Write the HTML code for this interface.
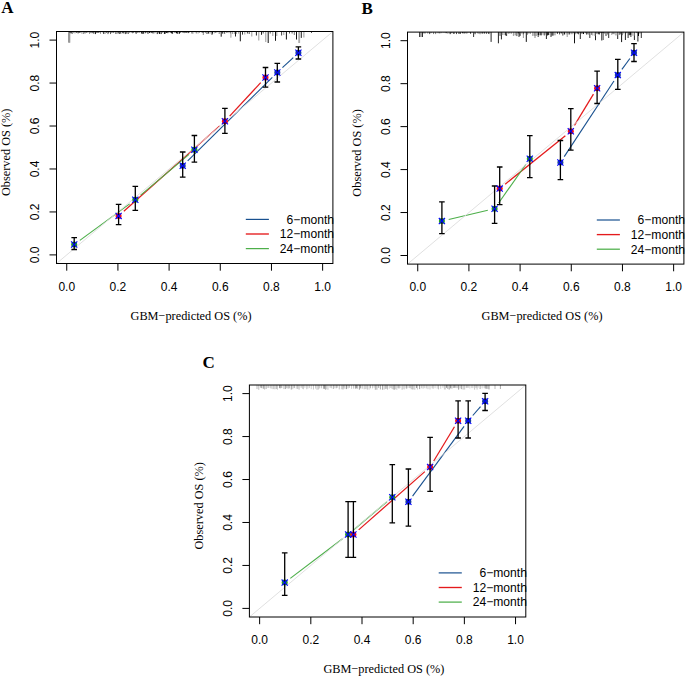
<!DOCTYPE html>
<html><head><meta charset="utf-8"><style>
html,body{margin:0;padding:0;background:#fff;}
svg{display:block;}
</style></head><body>
<svg width="685" height="676" viewBox="0 0 685 676">
<rect width="685" height="676" fill="#fff"/>
<line x1="69" y1="31.5" x2="69" y2="42.7" stroke="#333" stroke-width="1"/>
<line x1="69.8" y1="31.5" x2="69.8" y2="42.7" stroke="#999" stroke-width="1"/>
<line x1="70" y1="31.5" x2="70" y2="32.88" stroke="#222" stroke-width="1"/>
<line x1="71.17" y1="31.5" x2="71.17" y2="33.47" stroke="#000" stroke-width="1"/>
<line x1="72.58" y1="31.5" x2="72.58" y2="33.95" stroke="#888" stroke-width="1"/>
<line x1="73.63" y1="31.5" x2="73.63" y2="32.87" stroke="#888" stroke-width="1"/>
<line x1="74.98" y1="31.5" x2="74.98" y2="33.38" stroke="#888" stroke-width="1"/>
<line x1="76.41" y1="31.5" x2="76.41" y2="32.74" stroke="#222" stroke-width="1"/>
<line x1="78.08" y1="31.5" x2="78.08" y2="33.34" stroke="#000" stroke-width="1"/>
<line x1="79.55" y1="31.5" x2="79.55" y2="32.6" stroke="#000" stroke-width="1"/>
<line x1="80.66" y1="31.5" x2="80.66" y2="32.55" stroke="#555" stroke-width="1"/>
<line x1="81.93" y1="31.5" x2="81.93" y2="33.65" stroke="#888" stroke-width="1"/>
<line x1="83.44" y1="31.5" x2="83.44" y2="33.97" stroke="#888" stroke-width="1"/>
<line x1="84.97" y1="31.5" x2="84.97" y2="33.42" stroke="#222" stroke-width="1"/>
<line x1="86.65" y1="31.5" x2="86.65" y2="32.66" stroke="#222" stroke-width="1"/>
<line x1="87.94" y1="31.5" x2="87.94" y2="32.91" stroke="#888" stroke-width="1"/>
<line x1="89.52" y1="31.5" x2="89.52" y2="33.87" stroke="#888" stroke-width="1"/>
<line x1="90.83" y1="31.5" x2="90.83" y2="33.12" stroke="#555" stroke-width="1"/>
<line x1="92.16" y1="31.5" x2="92.16" y2="33.15" stroke="#222" stroke-width="1"/>
<line x1="93.87" y1="31.5" x2="93.87" y2="33.59" stroke="#000" stroke-width="1"/>
<line x1="95.53" y1="31.5" x2="95.53" y2="34.09" stroke="#222" stroke-width="1"/>
<line x1="97.02" y1="31.5" x2="97.02" y2="33.02" stroke="#000" stroke-width="1"/>
<line x1="98.54" y1="31.5" x2="98.54" y2="32.84" stroke="#555" stroke-width="1"/>
<line x1="99.62" y1="31.5" x2="99.62" y2="32.6" stroke="#888" stroke-width="1"/>
<line x1="100.51" y1="31.5" x2="100.51" y2="33.78" stroke="#888" stroke-width="1"/>
<line x1="102.21" y1="31.5" x2="102.21" y2="32.53" stroke="#888" stroke-width="1"/>
<line x1="103.78" y1="31.5" x2="103.78" y2="33.9" stroke="#000" stroke-width="1"/>
<line x1="105.18" y1="31.5" x2="105.18" y2="33.72" stroke="#888" stroke-width="1"/>
<line x1="106.7" y1="31.5" x2="106.7" y2="33.03" stroke="#555" stroke-width="1"/>
<line x1="108.01" y1="31.5" x2="108.01" y2="34.1" stroke="#555" stroke-width="1"/>
<line x1="108.81" y1="31.5" x2="108.81" y2="32.67" stroke="#000" stroke-width="1"/>
<line x1="110.56" y1="31.5" x2="110.56" y2="34.05" stroke="#555" stroke-width="1"/>
<line x1="111.97" y1="31.5" x2="111.97" y2="32.75" stroke="#000" stroke-width="1"/>
<line x1="113.75" y1="31.5" x2="113.75" y2="33.04" stroke="#555" stroke-width="1"/>
<line x1="115.51" y1="31.5" x2="115.51" y2="33.93" stroke="#888" stroke-width="1"/>
<line x1="116.69" y1="31.5" x2="116.69" y2="33.89" stroke="#888" stroke-width="1"/>
<line x1="118.13" y1="31.5" x2="118.13" y2="33.45" stroke="#000" stroke-width="1"/>
<line x1="119.55" y1="31.5" x2="119.55" y2="34" stroke="#555" stroke-width="1"/>
<line x1="120.78" y1="31.5" x2="120.78" y2="33.65" stroke="#222" stroke-width="1"/>
<line x1="122.52" y1="31.5" x2="122.52" y2="33.2" stroke="#555" stroke-width="1"/>
<line x1="123.84" y1="31.5" x2="123.84" y2="33.38" stroke="#000" stroke-width="1"/>
<line x1="125.43" y1="31.5" x2="125.43" y2="34.08" stroke="#555" stroke-width="1"/>
<line x1="126.25" y1="31.5" x2="126.25" y2="33.49" stroke="#222" stroke-width="1"/>
<line x1="127.11" y1="31.5" x2="127.11" y2="33.5" stroke="#888" stroke-width="1"/>
<line x1="128.26" y1="31.5" x2="128.26" y2="33.97" stroke="#555" stroke-width="1"/>
<line x1="129.8" y1="31.5" x2="129.8" y2="32.54" stroke="#000" stroke-width="1"/>
<line x1="131.55" y1="31.5" x2="131.55" y2="32.53" stroke="#555" stroke-width="1"/>
<line x1="132.61" y1="31.5" x2="132.61" y2="33.23" stroke="#555" stroke-width="1"/>
<line x1="133.58" y1="31.5" x2="133.58" y2="32.8" stroke="#555" stroke-width="1"/>
<line x1="135.23" y1="31.5" x2="135.23" y2="32.92" stroke="#888" stroke-width="1"/>
<line x1="136.13" y1="31.5" x2="136.13" y2="33.8" stroke="#222" stroke-width="1"/>
<line x1="137.24" y1="31.5" x2="137.24" y2="32.86" stroke="#555" stroke-width="1"/>
<line x1="138.28" y1="31.5" x2="138.28" y2="32.8" stroke="#888" stroke-width="1"/>
<line x1="139.73" y1="31.5" x2="139.73" y2="32.66" stroke="#555" stroke-width="1"/>
<line x1="141.48" y1="31.5" x2="141.48" y2="33.58" stroke="#222" stroke-width="1"/>
<line x1="142.72" y1="31.5" x2="142.72" y2="33.87" stroke="#222" stroke-width="1"/>
<line x1="143.6" y1="31.5" x2="143.6" y2="33.69" stroke="#222" stroke-width="1"/>
<line x1="145.28" y1="31.5" x2="145.28" y2="33.22" stroke="#222" stroke-width="1"/>
<line x1="146.87" y1="31.5" x2="146.87" y2="32.55" stroke="#222" stroke-width="1"/>
<line x1="147.99" y1="31.5" x2="147.99" y2="33.84" stroke="#222" stroke-width="1"/>
<line x1="149.65" y1="31.5" x2="149.65" y2="33.04" stroke="#000" stroke-width="1"/>
<line x1="151.26" y1="31.5" x2="151.26" y2="33.05" stroke="#222" stroke-width="1"/>
<line x1="152.48" y1="31.5" x2="152.48" y2="33.33" stroke="#555" stroke-width="1"/>
<line x1="153.74" y1="31.5" x2="153.74" y2="33.51" stroke="#555" stroke-width="1"/>
<line x1="154.96" y1="31.5" x2="154.96" y2="33.16" stroke="#888" stroke-width="1"/>
<line x1="155.92" y1="31.5" x2="155.92" y2="32.51" stroke="#888" stroke-width="1"/>
<line x1="157.28" y1="31.5" x2="157.28" y2="34.08" stroke="#222" stroke-width="1"/>
<line x1="158.11" y1="31.5" x2="158.11" y2="33.23" stroke="#555" stroke-width="1"/>
<line x1="159.45" y1="31.5" x2="159.45" y2="33.92" stroke="#000" stroke-width="1"/>
<line x1="161.11" y1="31.5" x2="161.11" y2="34.05" stroke="#000" stroke-width="1"/>
<line x1="162.72" y1="31.5" x2="162.72" y2="32.57" stroke="#222" stroke-width="1"/>
<line x1="164.42" y1="31.5" x2="164.42" y2="33.94" stroke="#000" stroke-width="1"/>
<line x1="165.23" y1="31.5" x2="165.23" y2="33.69" stroke="#222" stroke-width="1"/>
<line x1="166.53" y1="31.5" x2="166.53" y2="32.88" stroke="#000" stroke-width="1"/>
<line x1="167.86" y1="31.5" x2="167.86" y2="33.16" stroke="#000" stroke-width="1"/>
<line x1="169" y1="31.5" x2="169" y2="32.9" stroke="#888" stroke-width="1"/>
<line x1="170.61" y1="31.5" x2="170.61" y2="32.6" stroke="#222" stroke-width="1"/>
<line x1="171.61" y1="31.5" x2="171.61" y2="33.36" stroke="#000" stroke-width="1"/>
<line x1="172.58" y1="31.5" x2="172.58" y2="33.77" stroke="#222" stroke-width="1"/>
<line x1="174.2" y1="31.5" x2="174.2" y2="32.51" stroke="#888" stroke-width="1"/>
<line x1="175.05" y1="31.5" x2="175.05" y2="32.93" stroke="#555" stroke-width="1"/>
<line x1="176.47" y1="31.5" x2="176.47" y2="33.33" stroke="#000" stroke-width="1"/>
<line x1="177.74" y1="31.5" x2="177.74" y2="33.74" stroke="#000" stroke-width="1"/>
<line x1="179.4" y1="31.5" x2="179.4" y2="33.74" stroke="#000" stroke-width="1"/>
<line x1="180.33" y1="31.5" x2="180.33" y2="32.61" stroke="#000" stroke-width="1"/>
<line x1="181.98" y1="31.5" x2="181.98" y2="32.64" stroke="#888" stroke-width="1"/>
<line x1="183.1" y1="31.5" x2="183.1" y2="33" stroke="#555" stroke-width="1"/>
<line x1="184.28" y1="31.5" x2="184.28" y2="33.12" stroke="#555" stroke-width="1"/>
<line x1="185.44" y1="31.5" x2="185.44" y2="32.81" stroke="#555" stroke-width="1"/>
<line x1="186.67" y1="31.5" x2="186.67" y2="32.7" stroke="#000" stroke-width="1"/>
<line x1="188.19" y1="31.5" x2="188.19" y2="33.11" stroke="#000" stroke-width="1"/>
<line x1="189.55" y1="31.5" x2="189.55" y2="32.57" stroke="#888" stroke-width="1"/>
<line x1="192" y1="31.5" x2="192" y2="33.5" stroke="#333" stroke-width="1"/>
<line x1="203.3" y1="31.5" x2="203.3" y2="35" stroke="#888" stroke-width="1"/>
<line x1="207" y1="31.5" x2="207" y2="34" stroke="#444" stroke-width="1"/>
<line x1="212" y1="31.5" x2="212" y2="35" stroke="#555" stroke-width="1"/>
<line x1="221.2" y1="31.5" x2="221.2" y2="36.7" stroke="#111" stroke-width="1"/>
<line x1="230.9" y1="31.5" x2="230.9" y2="37.7" stroke="#999" stroke-width="1"/>
<line x1="235.5" y1="31.5" x2="235.5" y2="36.5" stroke="#222" stroke-width="1"/>
<line x1="240.3" y1="31.5" x2="240.3" y2="41.3" stroke="#111" stroke-width="1"/>
<line x1="242.5" y1="31.5" x2="242.5" y2="34.6" stroke="#333" stroke-width="1"/>
<line x1="244.8" y1="31.5" x2="244.8" y2="34.5" stroke="#999" stroke-width="1"/>
<line x1="247.4" y1="31.5" x2="247.4" y2="33.5" stroke="#444" stroke-width="1"/>
<line x1="249.2" y1="31.5" x2="249.2" y2="34" stroke="#555" stroke-width="1"/>
<line x1="251.8" y1="31.5" x2="251.8" y2="36.5" stroke="#999" stroke-width="1"/>
<line x1="256.4" y1="31.5" x2="256.4" y2="35.5" stroke="#222" stroke-width="1"/>
<line x1="258.8" y1="31.5" x2="258.8" y2="40.5" stroke="#999" stroke-width="1"/>
<line x1="261.5" y1="31.5" x2="261.5" y2="34.8" stroke="#222" stroke-width="1"/>
<line x1="263.2" y1="31.5" x2="263.2" y2="33.5" stroke="#555" stroke-width="1"/>
<line x1="265.8" y1="31.5" x2="265.8" y2="42" stroke="#999" stroke-width="1"/>
<line x1="268.2" y1="31.5" x2="268.2" y2="43" stroke="#111" stroke-width="1"/>
<line x1="270.2" y1="31.5" x2="270.2" y2="33.5" stroke="#555" stroke-width="1"/>
<line x1="272.8" y1="31.5" x2="272.8" y2="36" stroke="#999" stroke-width="1"/>
<line x1="275.5" y1="31.5" x2="275.5" y2="40.8" stroke="#111" stroke-width="1"/>
<line x1="276.8" y1="31.5" x2="276.8" y2="36" stroke="#999" stroke-width="1"/>
<line x1="281.6" y1="31.5" x2="281.6" y2="35.5" stroke="#444" stroke-width="1"/>
<line x1="283.8" y1="31.5" x2="283.8" y2="35" stroke="#999" stroke-width="1"/>
<line x1="286.4" y1="31.5" x2="286.4" y2="39.5" stroke="#111" stroke-width="1"/>
<line x1="289.5" y1="31.5" x2="289.5" y2="33.5" stroke="#555" stroke-width="1"/>
<line x1="292.1" y1="31.5" x2="292.1" y2="33.5" stroke="#555" stroke-width="1"/>
<line x1="294.3" y1="31.5" x2="294.3" y2="35" stroke="#777" stroke-width="1"/>
<line x1="296.5" y1="31.5" x2="296.5" y2="39.5" stroke="#111" stroke-width="1"/>
<line x1="298.9" y1="31.5" x2="298.9" y2="43" stroke="#999" stroke-width="1"/>
<line x1="299.6" y1="31.5" x2="299.6" y2="43" stroke="#aaa" stroke-width="1"/>
<line x1="301.3" y1="31.5" x2="301.3" y2="37.9" stroke="#222" stroke-width="1"/>
<line x1="303.9" y1="31.5" x2="303.9" y2="37.5" stroke="#999" stroke-width="1"/>
<line x1="311.5" y1="31.5" x2="311.5" y2="33" stroke="#555" stroke-width="1"/>
<line x1="193" y1="31.5" x2="193" y2="33.67" stroke="#999" stroke-width="1"/>
<line x1="195.03" y1="31.5" x2="195.03" y2="32.57" stroke="#999" stroke-width="1"/>
<line x1="196.3" y1="31.5" x2="196.3" y2="33.44" stroke="#777" stroke-width="1"/>
<line x1="198.04" y1="31.5" x2="198.04" y2="33.54" stroke="#999" stroke-width="1"/>
<line x1="199.27" y1="31.5" x2="199.27" y2="32.83" stroke="#777" stroke-width="1"/>
<line x1="201.37" y1="31.5" x2="201.37" y2="32.61" stroke="#999" stroke-width="1"/>
<line x1="202.86" y1="31.5" x2="202.86" y2="32.7" stroke="#000" stroke-width="1"/>
<line x1="205.28" y1="31.5" x2="205.28" y2="33.06" stroke="#777" stroke-width="1"/>
<line x1="206.64" y1="31.5" x2="206.64" y2="33.54" stroke="#999" stroke-width="1"/>
<line x1="208.71" y1="31.5" x2="208.71" y2="33.6" stroke="#000" stroke-width="1"/>
<line x1="210.96" y1="31.5" x2="210.96" y2="33.57" stroke="#999" stroke-width="1"/>
<line x1="212.35" y1="31.5" x2="212.35" y2="33.66" stroke="#000" stroke-width="1"/>
<line x1="214.23" y1="31.5" x2="214.23" y2="33.35" stroke="#999" stroke-width="1"/>
<line x1="215.67" y1="31.5" x2="215.67" y2="32.54" stroke="#000" stroke-width="1"/>
<line x1="216.9" y1="31.5" x2="216.9" y2="32.67" stroke="#999" stroke-width="1"/>
<line x1="219.19" y1="31.5" x2="219.19" y2="33.93" stroke="#777" stroke-width="1"/>
<line x1="221.42" y1="31.5" x2="221.42" y2="32.55" stroke="#444" stroke-width="1"/>
<line x1="222.76" y1="31.5" x2="222.76" y2="33.62" stroke="#000" stroke-width="1"/>
<line x1="224.68" y1="31.5" x2="224.68" y2="33.8" stroke="#444" stroke-width="1"/>
<line x1="226.95" y1="31.5" x2="226.95" y2="32.86" stroke="#444" stroke-width="1"/>
<line x1="228.99" y1="31.5" x2="228.99" y2="33.18" stroke="#999" stroke-width="1"/>
<line x1="230.52" y1="31.5" x2="230.52" y2="33.4" stroke="#777" stroke-width="1"/>
<line x1="232.45" y1="31.5" x2="232.45" y2="33.95" stroke="#999" stroke-width="1"/>
<line x1="234.3" y1="31.5" x2="234.3" y2="33.96" stroke="#999" stroke-width="1"/>
<line x1="236.59" y1="31.5" x2="236.59" y2="33.95" stroke="#999" stroke-width="1"/>
<line x1="238.69" y1="31.5" x2="238.69" y2="33.63" stroke="#999" stroke-width="1"/>
<line x1="187.69" y1="160.79" x2="272.31" y2="77.41" stroke="#18508f" stroke-width="1.1"/>
<line x1="282.42" y1="67.72" x2="293.28" y2="57.58" stroke="#18508f" stroke-width="1.1"/>
<line x1="123.83" y1="211.24" x2="219.67" y2="125.86" stroke="#e41a1c" stroke-width="1.25"/>
<line x1="229.66" y1="116.07" x2="260.74" y2="82.63" stroke="#e41a1c" stroke-width="1.25"/>
<line x1="79.85" y1="240.36" x2="129.65" y2="203.84" stroke="#4daf4a" stroke-width="1.15"/>
<line x1="140.65" y1="195.18" x2="189.05" y2="154.32" stroke="#4daf4a" stroke-width="1.15"/>
<line x1="56.5" y1="263.5" x2="332.9" y2="31.5" stroke="#dcdcdc" stroke-width="0.9"/>
<circle cx="74.2" cy="244.5" r="3" fill="#22a022"/>
<circle cx="118.6" cy="215.9" r="3" fill="#ff1010"/>
<circle cx="135.3" cy="199.7" r="3" fill="#22a022"/>
<circle cx="182.7" cy="165.7" r="3" fill="#1a3f9a"/>
<circle cx="194.4" cy="149.8" r="3" fill="#22a022"/>
<circle cx="224.9" cy="121.2" r="3" fill="#ff1010"/>
<circle cx="265.5" cy="77.5" r="3" fill="#ff1010"/>
<circle cx="277.3" cy="72.5" r="3" fill="#1a3f9a"/>
<circle cx="298.4" cy="52.8" r="3" fill="#1a3f9a"/>
<path d="M74.2 237.7V249.5M71.4 237.7H77M71.4 249.5H77" stroke="#000" stroke-width="1.3" fill="none"/>
<path d="M118.6 204.3V224.6M115.8 204.3H121.4M115.8 224.6H121.4" stroke="#000" stroke-width="1.3" fill="none"/>
<path d="M135.3 186.3V210.4M132.5 186.3H138.1M132.5 210.4H138.1" stroke="#000" stroke-width="1.3" fill="none"/>
<path d="M182.7 152V177.1M179.9 152H185.5M179.9 177.1H185.5" stroke="#000" stroke-width="1.3" fill="none"/>
<path d="M194.4 135.5V162.2M191.6 135.5H197.2M191.6 162.2H197.2" stroke="#000" stroke-width="1.3" fill="none"/>
<path d="M224.9 108.3V133.4M222.1 108.3H227.7M222.1 133.4H227.7" stroke="#000" stroke-width="1.3" fill="none"/>
<path d="M265.5 67.5V87.2M262.7 67.5H268.3M262.7 87.2H268.3" stroke="#000" stroke-width="1.3" fill="none"/>
<path d="M277.3 63.4V82M274.5 63.4H280.1M274.5 82H280.1" stroke="#000" stroke-width="1.3" fill="none"/>
<path d="M298.4 46.8V59M295.6 46.8H301.2M295.6 59H301.2" stroke="#000" stroke-width="1.3" fill="none"/>
<path d="M71.1 241.4L77.3 247.6M71.1 247.6L77.3 241.4" stroke="#0000ff" stroke-width="1.1"/>
<path d="M115.5 212.8L121.7 219M115.5 219L121.7 212.8" stroke="#0000ff" stroke-width="1.1"/>
<path d="M132.2 196.6L138.4 202.8M132.2 202.8L138.4 196.6" stroke="#0000ff" stroke-width="1.1"/>
<path d="M179.6 162.6L185.8 168.8M179.6 168.8L185.8 162.6" stroke="#0000ff" stroke-width="1.1"/>
<path d="M191.3 146.7L197.5 152.9M191.3 152.9L197.5 146.7" stroke="#0000ff" stroke-width="1.1"/>
<path d="M221.8 118.1L228 124.3M221.8 124.3L228 118.1" stroke="#0000ff" stroke-width="1.1"/>
<path d="M262.4 74.4L268.6 80.6M262.4 80.6L268.6 74.4" stroke="#0000ff" stroke-width="1.1"/>
<path d="M274.2 69.4L280.4 75.6M274.2 75.6L280.4 69.4" stroke="#0000ff" stroke-width="1.1"/>
<path d="M295.3 49.7L301.5 55.9M295.3 55.9L301.5 49.7" stroke="#0000ff" stroke-width="1.1"/>
<rect x="56.5" y="31.5" width="276.4" height="232" fill="none" stroke="#000" stroke-width="1"/>
<line x1="49.5" y1="254.9" x2="56.5" y2="254.9" stroke="#000" stroke-width="1"/>
<text x="39.3" y="254.9" transform="rotate(-90 39.3 254.9)" text-anchor="middle" font-family='"Liberation Sans", sans-serif' font-size="12.0">0.0</text>
<line x1="49.5" y1="211.94" x2="56.5" y2="211.94" stroke="#000" stroke-width="1"/>
<text x="39.3" y="211.94" transform="rotate(-90 39.3 211.94)" text-anchor="middle" font-family='"Liberation Sans", sans-serif' font-size="12.0">0.2</text>
<line x1="49.5" y1="168.98" x2="56.5" y2="168.98" stroke="#000" stroke-width="1"/>
<text x="39.3" y="168.98" transform="rotate(-90 39.3 168.98)" text-anchor="middle" font-family='"Liberation Sans", sans-serif' font-size="12.0">0.4</text>
<line x1="49.5" y1="126.02" x2="56.5" y2="126.02" stroke="#000" stroke-width="1"/>
<text x="39.3" y="126.02" transform="rotate(-90 39.3 126.02)" text-anchor="middle" font-family='"Liberation Sans", sans-serif' font-size="12.0">0.6</text>
<line x1="49.5" y1="83.06" x2="56.5" y2="83.06" stroke="#000" stroke-width="1"/>
<text x="39.3" y="83.06" transform="rotate(-90 39.3 83.06)" text-anchor="middle" font-family='"Liberation Sans", sans-serif' font-size="12.0">0.8</text>
<line x1="49.5" y1="40.1" x2="56.5" y2="40.1" stroke="#000" stroke-width="1"/>
<text x="39.3" y="40.1" transform="rotate(-90 39.3 40.1)" text-anchor="middle" font-family='"Liberation Sans", sans-serif' font-size="12.0">1.0</text>
<line x1="66.74" y1="263.5" x2="66.74" y2="270.7" stroke="#000" stroke-width="1"/>
<text x="66.74" y="290.5" text-anchor="middle" font-family='"Liberation Sans", sans-serif' font-size="12.0">0.0</text>
<line x1="117.92" y1="263.5" x2="117.92" y2="270.7" stroke="#000" stroke-width="1"/>
<text x="117.92" y="290.5" text-anchor="middle" font-family='"Liberation Sans", sans-serif' font-size="12.0">0.2</text>
<line x1="169.1" y1="263.5" x2="169.1" y2="270.7" stroke="#000" stroke-width="1"/>
<text x="169.1" y="290.5" text-anchor="middle" font-family='"Liberation Sans", sans-serif' font-size="12.0">0.4</text>
<line x1="220.28" y1="263.5" x2="220.28" y2="270.7" stroke="#000" stroke-width="1"/>
<text x="220.28" y="290.5" text-anchor="middle" font-family='"Liberation Sans", sans-serif' font-size="12.0">0.6</text>
<line x1="271.46" y1="263.5" x2="271.46" y2="270.7" stroke="#000" stroke-width="1"/>
<text x="271.46" y="290.5" text-anchor="middle" font-family='"Liberation Sans", sans-serif' font-size="12.0">0.8</text>
<line x1="322.64" y1="263.5" x2="322.64" y2="270.7" stroke="#000" stroke-width="1"/>
<text x="322.64" y="290.5" text-anchor="middle" font-family='"Liberation Sans", sans-serif' font-size="12.0">1.0</text>
<clipPath id="c0"><rect x="56.5" y="31.5" width="275.8" height="232"/></clipPath>
<line x1="245.8" y1="219.4" x2="268.9" y2="219.4" stroke="#18508f" stroke-width="1.2000000000000002"/>
<text x="334" y="223.7" text-anchor="end" font-family='"Liberation Sans", sans-serif' font-size="12.1">6−month</text>
<line x1="245.8" y1="234" x2="268.9" y2="234" stroke="#e41a1c" stroke-width="1.35"/>
<text x="334" y="238.3" text-anchor="end" font-family='"Liberation Sans", sans-serif' font-size="12.1">12−month</text>
<line x1="245.8" y1="248.6" x2="268.9" y2="248.6" stroke="#4daf4a" stroke-width="1.25"/>
<text x="334" y="252.9" text-anchor="end" font-family='"Liberation Sans", sans-serif' font-size="12.1">24−month</text>
<text x="130.5" y="319.6" font-family='"Liberation Serif", serif' font-size="12.3">GBM−predicted OS (%)</text>
<text x="9.7" y="152.3" transform="rotate(-90 9.7 152.3)" text-anchor="middle" font-family='"Liberation Serif", serif' font-size="12.3">Observed OS (%)</text>
<text x="1.2" y="12.8" font-family='"Liberation Serif", serif' font-weight="bold" font-size="17">A</text>
<line x1="419.6" y1="32.1" x2="419.6" y2="37" stroke="#333" stroke-width="1"/>
<line x1="421" y1="32.1" x2="421" y2="37" stroke="#555" stroke-width="1"/>
<line x1="422.5" y1="32.1" x2="422.5" y2="37" stroke="#333" stroke-width="1"/>
<line x1="473.6" y1="32.1" x2="473.6" y2="37" stroke="#333" stroke-width="1"/>
<line x1="491.1" y1="32.1" x2="491.1" y2="41.9" stroke="#222" stroke-width="1"/>
<line x1="498.4" y1="32.1" x2="498.4" y2="43.3" stroke="#222" stroke-width="1"/>
<line x1="501.4" y1="32.1" x2="501.4" y2="39.4" stroke="#222" stroke-width="1"/>
<line x1="506.6" y1="32.1" x2="506.6" y2="36" stroke="#444" stroke-width="1"/>
<line x1="519" y1="32.1" x2="519" y2="37" stroke="#333" stroke-width="1"/>
<line x1="523.4" y1="32.1" x2="523.4" y2="38" stroke="#999" stroke-width="1"/>
<line x1="526.3" y1="32.1" x2="526.3" y2="41.9" stroke="#111" stroke-width="1"/>
<line x1="535" y1="32.1" x2="535" y2="38" stroke="#888" stroke-width="1"/>
<line x1="538.2" y1="32.1" x2="538.2" y2="37" stroke="#333" stroke-width="1"/>
<line x1="546.4" y1="32.1" x2="546.4" y2="39" stroke="#222" stroke-width="1"/>
<line x1="551" y1="32.1" x2="551" y2="37" stroke="#333" stroke-width="1"/>
<line x1="567.2" y1="32.1" x2="567.2" y2="37" stroke="#999" stroke-width="1"/>
<line x1="574.5" y1="32.1" x2="574.5" y2="43.3" stroke="#111" stroke-width="1"/>
<line x1="580.3" y1="32.1" x2="580.3" y2="39" stroke="#222" stroke-width="1"/>
<line x1="589.8" y1="32.1" x2="589.8" y2="38" stroke="#333" stroke-width="1"/>
<line x1="595.5" y1="32.1" x2="595.5" y2="40.2" stroke="#222" stroke-width="1"/>
<line x1="601.8" y1="32.1" x2="601.8" y2="40.5" stroke="#222" stroke-width="1"/>
<line x1="603.2" y1="32.1" x2="603.2" y2="40" stroke="#555" stroke-width="1"/>
<line x1="606" y1="32.1" x2="606" y2="36" stroke="#444" stroke-width="1"/>
<line x1="608.7" y1="32.1" x2="608.7" y2="38" stroke="#333" stroke-width="1"/>
<line x1="612.9" y1="32.1" x2="612.9" y2="34" stroke="#444" stroke-width="1"/>
<line x1="617.7" y1="32.1" x2="617.7" y2="39" stroke="#222" stroke-width="1"/>
<line x1="621.6" y1="32.1" x2="621.6" y2="42.1" stroke="#111" stroke-width="1"/>
<line x1="625.4" y1="32.1" x2="625.4" y2="40" stroke="#222" stroke-width="1"/>
<line x1="628.1" y1="32.1" x2="628.1" y2="38" stroke="#333" stroke-width="1"/>
<line x1="630.9" y1="32.1" x2="630.9" y2="37" stroke="#333" stroke-width="1"/>
<line x1="634.4" y1="32.1" x2="634.4" y2="40" stroke="#222" stroke-width="1"/>
<line x1="637.9" y1="32.1" x2="637.9" y2="41.5" stroke="#222" stroke-width="1"/>
<line x1="641.3" y1="32.1" x2="641.3" y2="38" stroke="#333" stroke-width="1"/>
<line x1="424" y1="32.1" x2="424" y2="33.46" stroke="#444" stroke-width="1"/>
<line x1="425.26" y1="32.1" x2="425.26" y2="33.6" stroke="#999" stroke-width="1"/>
<line x1="427.73" y1="32.1" x2="427.73" y2="33.62" stroke="#999" stroke-width="1"/>
<line x1="429.67" y1="32.1" x2="429.67" y2="34.1" stroke="#444" stroke-width="1"/>
<line x1="431.09" y1="32.1" x2="431.09" y2="33.18" stroke="#777" stroke-width="1"/>
<line x1="433.59" y1="32.1" x2="433.59" y2="34.09" stroke="#777" stroke-width="1"/>
<line x1="435.66" y1="32.1" x2="435.66" y2="34.1" stroke="#777" stroke-width="1"/>
<line x1="438.09" y1="32.1" x2="438.09" y2="33.33" stroke="#777" stroke-width="1"/>
<line x1="439.85" y1="32.1" x2="439.85" y2="33.44" stroke="#444" stroke-width="1"/>
<line x1="441.76" y1="32.1" x2="441.76" y2="33.23" stroke="#999" stroke-width="1"/>
<line x1="444" y1="32.1" x2="444" y2="33.1" stroke="#999" stroke-width="1"/>
<line x1="446.13" y1="32.1" x2="446.13" y2="33.19" stroke="#000" stroke-width="1"/>
<line x1="447.9" y1="32.1" x2="447.9" y2="33.91" stroke="#999" stroke-width="1"/>
<line x1="450.15" y1="32.1" x2="450.15" y2="34.13" stroke="#000" stroke-width="1"/>
<line x1="451.9" y1="32.1" x2="451.9" y2="33.22" stroke="#444" stroke-width="1"/>
<line x1="453.93" y1="32.1" x2="453.93" y2="33.99" stroke="#000" stroke-width="1"/>
<line x1="456.47" y1="32.1" x2="456.47" y2="34.1" stroke="#444" stroke-width="1"/>
<line x1="458.89" y1="32.1" x2="458.89" y2="33.99" stroke="#444" stroke-width="1"/>
<line x1="460.19" y1="32.1" x2="460.19" y2="33.89" stroke="#000" stroke-width="1"/>
<line x1="462.63" y1="32.1" x2="462.63" y2="33.26" stroke="#000" stroke-width="1"/>
<line x1="464.13" y1="32.1" x2="464.13" y2="33.49" stroke="#000" stroke-width="1"/>
<line x1="465.32" y1="32.1" x2="465.32" y2="33.27" stroke="#777" stroke-width="1"/>
<line x1="466.38" y1="32.1" x2="466.38" y2="33.53" stroke="#777" stroke-width="1"/>
<line x1="467.39" y1="32.1" x2="467.39" y2="33.37" stroke="#999" stroke-width="1"/>
<line x1="469" y1="32.1" x2="469" y2="33.01" stroke="#999" stroke-width="1"/>
<line x1="470.62" y1="32.1" x2="470.62" y2="33.66" stroke="#000" stroke-width="1"/>
<line x1="473.04" y1="32.1" x2="473.04" y2="33.01" stroke="#999" stroke-width="1"/>
<line x1="474.22" y1="32.1" x2="474.22" y2="34.14" stroke="#777" stroke-width="1"/>
<line x1="475.37" y1="32.1" x2="475.37" y2="34.22" stroke="#777" stroke-width="1"/>
<line x1="477.46" y1="32.1" x2="477.46" y2="33.42" stroke="#999" stroke-width="1"/>
<line x1="478.93" y1="32.1" x2="478.93" y2="33.85" stroke="#777" stroke-width="1"/>
<line x1="480.1" y1="32.1" x2="480.1" y2="34.22" stroke="#777" stroke-width="1"/>
<line x1="482.18" y1="32.1" x2="482.18" y2="33.65" stroke="#000" stroke-width="1"/>
<line x1="484.25" y1="32.1" x2="484.25" y2="33.61" stroke="#000" stroke-width="1"/>
<line x1="486.39" y1="32.1" x2="486.39" y2="33.85" stroke="#444" stroke-width="1"/>
<line x1="488.43" y1="32.1" x2="488.43" y2="33.92" stroke="#444" stroke-width="1"/>
<line x1="489.71" y1="32.1" x2="489.71" y2="34.15" stroke="#999" stroke-width="1"/>
<line x1="500" y1="32.1" x2="500" y2="35.9" stroke="#444" stroke-width="1"/>
<line x1="502.29" y1="32.1" x2="502.29" y2="35.03" stroke="#999" stroke-width="1"/>
<line x1="504.07" y1="32.1" x2="504.07" y2="35.04" stroke="#999" stroke-width="1"/>
<line x1="505.74" y1="32.1" x2="505.74" y2="35.45" stroke="#000" stroke-width="1"/>
<line x1="506.89" y1="32.1" x2="506.89" y2="33.64" stroke="#999" stroke-width="1"/>
<line x1="508.39" y1="32.1" x2="508.39" y2="33.9" stroke="#999" stroke-width="1"/>
<line x1="509.47" y1="32.1" x2="509.47" y2="33.51" stroke="#999" stroke-width="1"/>
<line x1="511.18" y1="32.1" x2="511.18" y2="33.84" stroke="#777" stroke-width="1"/>
<line x1="513.4" y1="32.1" x2="513.4" y2="35.94" stroke="#999" stroke-width="1"/>
<line x1="515.16" y1="32.1" x2="515.16" y2="35.42" stroke="#777" stroke-width="1"/>
<line x1="516.86" y1="32.1" x2="516.86" y2="36.09" stroke="#444" stroke-width="1"/>
<line x1="518.24" y1="32.1" x2="518.24" y2="33.4" stroke="#000" stroke-width="1"/>
<line x1="520.03" y1="32.1" x2="520.03" y2="35.83" stroke="#000" stroke-width="1"/>
<line x1="521.28" y1="32.1" x2="521.28" y2="33.67" stroke="#999" stroke-width="1"/>
<line x1="523.22" y1="32.1" x2="523.22" y2="34.27" stroke="#444" stroke-width="1"/>
<line x1="525.05" y1="32.1" x2="525.05" y2="33.54" stroke="#999" stroke-width="1"/>
<line x1="527.17" y1="32.1" x2="527.17" y2="34.73" stroke="#444" stroke-width="1"/>
<line x1="528.96" y1="32.1" x2="528.96" y2="33.71" stroke="#777" stroke-width="1"/>
<line x1="530.48" y1="32.1" x2="530.48" y2="33.98" stroke="#999" stroke-width="1"/>
<line x1="532.73" y1="32.1" x2="532.73" y2="35.95" stroke="#999" stroke-width="1"/>
<line x1="534.17" y1="32.1" x2="534.17" y2="35.82" stroke="#777" stroke-width="1"/>
<line x1="536.06" y1="32.1" x2="536.06" y2="36.03" stroke="#777" stroke-width="1"/>
<line x1="538.31" y1="32.1" x2="538.31" y2="35.1" stroke="#000" stroke-width="1"/>
<line x1="540.15" y1="32.1" x2="540.15" y2="35.28" stroke="#000" stroke-width="1"/>
<line x1="541.31" y1="32.1" x2="541.31" y2="35.37" stroke="#444" stroke-width="1"/>
<line x1="542.99" y1="32.1" x2="542.99" y2="34.67" stroke="#999" stroke-width="1"/>
<line x1="544.27" y1="32.1" x2="544.27" y2="35.45" stroke="#444" stroke-width="1"/>
<line x1="545.32" y1="32.1" x2="545.32" y2="34.6" stroke="#999" stroke-width="1"/>
<line x1="546.48" y1="32.1" x2="546.48" y2="33.95" stroke="#444" stroke-width="1"/>
<line x1="547.67" y1="32.1" x2="547.67" y2="35.48" stroke="#000" stroke-width="1"/>
<line x1="548.71" y1="32.1" x2="548.71" y2="34.96" stroke="#000" stroke-width="1"/>
<line x1="550.4" y1="32.1" x2="550.4" y2="33.16" stroke="#777" stroke-width="1"/>
<line x1="551.86" y1="32.1" x2="551.86" y2="35.71" stroke="#444" stroke-width="1"/>
<line x1="552.97" y1="32.1" x2="552.97" y2="35.62" stroke="#000" stroke-width="1"/>
<line x1="554.97" y1="32.1" x2="554.97" y2="35.32" stroke="#777" stroke-width="1"/>
<line x1="557.37" y1="32.1" x2="557.37" y2="33.72" stroke="#000" stroke-width="1"/>
<line x1="559.57" y1="32.1" x2="559.57" y2="34.41" stroke="#444" stroke-width="1"/>
<line x1="561.25" y1="32.1" x2="561.25" y2="33.43" stroke="#000" stroke-width="1"/>
<line x1="562.83" y1="32.1" x2="562.83" y2="35.64" stroke="#444" stroke-width="1"/>
<line x1="564.37" y1="32.1" x2="564.37" y2="34.52" stroke="#000" stroke-width="1"/>
<line x1="566.13" y1="32.1" x2="566.13" y2="34.37" stroke="#999" stroke-width="1"/>
<line x1="567.55" y1="32.1" x2="567.55" y2="34.49" stroke="#999" stroke-width="1"/>
<line x1="569.17" y1="32.1" x2="569.17" y2="34.47" stroke="#000" stroke-width="1"/>
<line x1="571.17" y1="32.1" x2="571.17" y2="34.2" stroke="#777" stroke-width="1"/>
<line x1="572.8" y1="32.1" x2="572.8" y2="34.18" stroke="#999" stroke-width="1"/>
<line x1="574.11" y1="32.1" x2="574.11" y2="33.11" stroke="#444" stroke-width="1"/>
<line x1="575.48" y1="32.1" x2="575.48" y2="34.21" stroke="#999" stroke-width="1"/>
<line x1="577.22" y1="32.1" x2="577.22" y2="33.58" stroke="#000" stroke-width="1"/>
<line x1="578.46" y1="32.1" x2="578.46" y2="34.31" stroke="#444" stroke-width="1"/>
<line x1="580.35" y1="32.1" x2="580.35" y2="33.52" stroke="#444" stroke-width="1"/>
<line x1="581.97" y1="32.1" x2="581.97" y2="33.65" stroke="#000" stroke-width="1"/>
<line x1="583.54" y1="32.1" x2="583.54" y2="34.05" stroke="#000" stroke-width="1"/>
<line x1="585.52" y1="32.1" x2="585.52" y2="33.25" stroke="#999" stroke-width="1"/>
<line x1="586.58" y1="32.1" x2="586.58" y2="34.58" stroke="#444" stroke-width="1"/>
<line x1="587.92" y1="32.1" x2="587.92" y2="34.27" stroke="#444" stroke-width="1"/>
<line x1="589.15" y1="32.1" x2="589.15" y2="34.97" stroke="#777" stroke-width="1"/>
<line x1="591.42" y1="32.1" x2="591.42" y2="34.88" stroke="#777" stroke-width="1"/>
<line x1="592.81" y1="32.1" x2="592.81" y2="35.46" stroke="#999" stroke-width="1"/>
<line x1="594.91" y1="32.1" x2="594.91" y2="35.98" stroke="#999" stroke-width="1"/>
<line x1="596.26" y1="32.1" x2="596.26" y2="33.9" stroke="#777" stroke-width="1"/>
<line x1="598.15" y1="32.1" x2="598.15" y2="34.13" stroke="#000" stroke-width="1"/>
<line x1="599.22" y1="32.1" x2="599.22" y2="34.41" stroke="#000" stroke-width="1"/>
<line x1="601.05" y1="32.1" x2="601.05" y2="33.11" stroke="#000" stroke-width="1"/>
<line x1="603.01" y1="32.1" x2="603.01" y2="33.16" stroke="#000" stroke-width="1"/>
<line x1="604.68" y1="32.1" x2="604.68" y2="33.67" stroke="#777" stroke-width="1"/>
<line x1="605.96" y1="32.1" x2="605.96" y2="36.02" stroke="#999" stroke-width="1"/>
<line x1="607.44" y1="32.1" x2="607.44" y2="34.54" stroke="#777" stroke-width="1"/>
<line x1="609.75" y1="32.1" x2="609.75" y2="33.2" stroke="#777" stroke-width="1"/>
<line x1="611.81" y1="32.1" x2="611.81" y2="34.99" stroke="#999" stroke-width="1"/>
<line x1="612.93" y1="32.1" x2="612.93" y2="33.98" stroke="#999" stroke-width="1"/>
<line x1="614.09" y1="32.1" x2="614.09" y2="34.27" stroke="#777" stroke-width="1"/>
<line x1="615.84" y1="32.1" x2="615.84" y2="35.44" stroke="#999" stroke-width="1"/>
<line x1="617.09" y1="32.1" x2="617.09" y2="35.32" stroke="#999" stroke-width="1"/>
<line x1="619.26" y1="32.1" x2="619.26" y2="34.76" stroke="#444" stroke-width="1"/>
<line x1="620.76" y1="32.1" x2="620.76" y2="34.34" stroke="#444" stroke-width="1"/>
<line x1="622.39" y1="32.1" x2="622.39" y2="35.21" stroke="#777" stroke-width="1"/>
<line x1="623.76" y1="32.1" x2="623.76" y2="33.61" stroke="#999" stroke-width="1"/>
<line x1="626.09" y1="32.1" x2="626.09" y2="33.23" stroke="#444" stroke-width="1"/>
<line x1="628.09" y1="32.1" x2="628.09" y2="33.17" stroke="#999" stroke-width="1"/>
<line x1="629.22" y1="32.1" x2="629.22" y2="35.18" stroke="#000" stroke-width="1"/>
<line x1="630.66" y1="32.1" x2="630.66" y2="34.9" stroke="#000" stroke-width="1"/>
<line x1="632.89" y1="32.1" x2="632.89" y2="35.72" stroke="#999" stroke-width="1"/>
<line x1="634.55" y1="32.1" x2="634.55" y2="35.71" stroke="#777" stroke-width="1"/>
<line x1="636.94" y1="32.1" x2="636.94" y2="33.1" stroke="#444" stroke-width="1"/>
<line x1="638.5" y1="32.1" x2="638.5" y2="35.97" stroke="#000" stroke-width="1"/>
<line x1="639.98" y1="32.1" x2="639.98" y2="34.03" stroke="#999" stroke-width="1"/>
<line x1="564.24" y1="156.65" x2="613.96" y2="80.95" stroke="#18508f" stroke-width="1.1"/>
<line x1="621.91" y1="69.44" x2="629.89" y2="58.46" stroke="#18508f" stroke-width="1.1"/>
<line x1="505.15" y1="184.21" x2="565.35" y2="135.69" stroke="#e41a1c" stroke-width="1.25"/>
<line x1="574.45" y1="125.32" x2="593.45" y2="94.18" stroke="#e41a1c" stroke-width="1.25"/>
<line x1="448.71" y1="219.5" x2="487.79" y2="210.3" stroke="#4daf4a" stroke-width="1.15"/>
<line x1="498.63" y1="202.98" x2="525.77" y2="164.52" stroke="#4daf4a" stroke-width="1.15"/>
<line x1="407.5" y1="264.1" x2="683.9" y2="32.1" stroke="#dcdcdc" stroke-width="0.9"/>
<circle cx="441.9" cy="221.1" r="3" fill="#22a022"/>
<circle cx="494.6" cy="208.7" r="3" fill="#22a022"/>
<circle cx="499.7" cy="188.6" r="3" fill="#ff1010"/>
<circle cx="529.8" cy="158.8" r="3" fill="#22a022"/>
<circle cx="560.4" cy="162.5" r="3" fill="#1a3f9a"/>
<circle cx="570.8" cy="131.3" r="3" fill="#ff1010"/>
<circle cx="597.1" cy="88.2" r="3" fill="#ff1010"/>
<circle cx="617.8" cy="75.1" r="3" fill="#1a3f9a"/>
<circle cx="634" cy="52.8" r="3" fill="#1a3f9a"/>
<path d="M441.9 201.9V233.6M439.1 201.9H444.7M439.1 233.6H444.7" stroke="#000" stroke-width="1.3" fill="none"/>
<path d="M494.6 186V223.4M491.8 186H497.4M491.8 223.4H497.4" stroke="#000" stroke-width="1.3" fill="none"/>
<path d="M499.7 167V204.6M496.9 167H502.5M496.9 204.6H502.5" stroke="#000" stroke-width="1.3" fill="none"/>
<path d="M529.8 135.6V177.7M527 135.6H532.6M527 177.7H532.6" stroke="#000" stroke-width="1.3" fill="none"/>
<path d="M560.4 140.5V179.7M557.6 140.5H563.2M557.6 179.7H563.2" stroke="#000" stroke-width="1.3" fill="none"/>
<path d="M570.8 108.7V150.2M568 108.7H573.6M568 150.2H573.6" stroke="#000" stroke-width="1.3" fill="none"/>
<path d="M597.1 71.2V103.5M594.3 71.2H599.9M594.3 103.5H599.9" stroke="#000" stroke-width="1.3" fill="none"/>
<path d="M617.8 59.4V89.4M615 59.4H620.6M615 89.4H620.6" stroke="#000" stroke-width="1.3" fill="none"/>
<path d="M634 43.7V61.5M631.2 43.7H636.8M631.2 61.5H636.8" stroke="#000" stroke-width="1.3" fill="none"/>
<path d="M438.8 218L445 224.2M438.8 224.2L445 218" stroke="#0000ff" stroke-width="1.1"/>
<path d="M491.5 205.6L497.7 211.8M491.5 211.8L497.7 205.6" stroke="#0000ff" stroke-width="1.1"/>
<path d="M496.6 185.5L502.8 191.7M496.6 191.7L502.8 185.5" stroke="#0000ff" stroke-width="1.1"/>
<path d="M526.7 155.7L532.9 161.9M526.7 161.9L532.9 155.7" stroke="#0000ff" stroke-width="1.1"/>
<path d="M557.3 159.4L563.5 165.6M557.3 165.6L563.5 159.4" stroke="#0000ff" stroke-width="1.1"/>
<path d="M567.7 128.2L573.9 134.4M567.7 134.4L573.9 128.2" stroke="#0000ff" stroke-width="1.1"/>
<path d="M594 85.1L600.2 91.3M594 91.3L600.2 85.1" stroke="#0000ff" stroke-width="1.1"/>
<path d="M614.7 72L620.9 78.2M614.7 78.2L620.9 72" stroke="#0000ff" stroke-width="1.1"/>
<path d="M630.9 49.7L637.1 55.9M630.9 55.9L637.1 49.7" stroke="#0000ff" stroke-width="1.1"/>
<rect x="407.5" y="32.1" width="276.4" height="232" fill="none" stroke="#000" stroke-width="1"/>
<line x1="400.5" y1="255.5" x2="407.5" y2="255.5" stroke="#000" stroke-width="1"/>
<text x="390.3" y="255.5" transform="rotate(-90 390.3 255.5)" text-anchor="middle" font-family='"Liberation Sans", sans-serif' font-size="12.0">0.0</text>
<line x1="400.5" y1="212.54" x2="407.5" y2="212.54" stroke="#000" stroke-width="1"/>
<text x="390.3" y="212.54" transform="rotate(-90 390.3 212.54)" text-anchor="middle" font-family='"Liberation Sans", sans-serif' font-size="12.0">0.2</text>
<line x1="400.5" y1="169.58" x2="407.5" y2="169.58" stroke="#000" stroke-width="1"/>
<text x="390.3" y="169.58" transform="rotate(-90 390.3 169.58)" text-anchor="middle" font-family='"Liberation Sans", sans-serif' font-size="12.0">0.4</text>
<line x1="400.5" y1="126.62" x2="407.5" y2="126.62" stroke="#000" stroke-width="1"/>
<text x="390.3" y="126.62" transform="rotate(-90 390.3 126.62)" text-anchor="middle" font-family='"Liberation Sans", sans-serif' font-size="12.0">0.6</text>
<line x1="400.5" y1="83.66" x2="407.5" y2="83.66" stroke="#000" stroke-width="1"/>
<text x="390.3" y="83.66" transform="rotate(-90 390.3 83.66)" text-anchor="middle" font-family='"Liberation Sans", sans-serif' font-size="12.0">0.8</text>
<line x1="400.5" y1="40.7" x2="407.5" y2="40.7" stroke="#000" stroke-width="1"/>
<text x="390.3" y="40.7" transform="rotate(-90 390.3 40.7)" text-anchor="middle" font-family='"Liberation Sans", sans-serif' font-size="12.0">1.0</text>
<line x1="417.74" y1="264.1" x2="417.74" y2="271.3" stroke="#000" stroke-width="1"/>
<text x="417.74" y="291.1" text-anchor="middle" font-family='"Liberation Sans", sans-serif' font-size="12.0">0.0</text>
<line x1="468.92" y1="264.1" x2="468.92" y2="271.3" stroke="#000" stroke-width="1"/>
<text x="468.92" y="291.1" text-anchor="middle" font-family='"Liberation Sans", sans-serif' font-size="12.0">0.2</text>
<line x1="520.1" y1="264.1" x2="520.1" y2="271.3" stroke="#000" stroke-width="1"/>
<text x="520.1" y="291.1" text-anchor="middle" font-family='"Liberation Sans", sans-serif' font-size="12.0">0.4</text>
<line x1="571.28" y1="264.1" x2="571.28" y2="271.3" stroke="#000" stroke-width="1"/>
<text x="571.28" y="291.1" text-anchor="middle" font-family='"Liberation Sans", sans-serif' font-size="12.0">0.6</text>
<line x1="622.46" y1="264.1" x2="622.46" y2="271.3" stroke="#000" stroke-width="1"/>
<text x="622.46" y="291.1" text-anchor="middle" font-family='"Liberation Sans", sans-serif' font-size="12.0">0.8</text>
<line x1="673.64" y1="264.1" x2="673.64" y2="271.3" stroke="#000" stroke-width="1"/>
<text x="673.64" y="291.1" text-anchor="middle" font-family='"Liberation Sans", sans-serif' font-size="12.0">1.0</text>
<clipPath id="c351"><rect x="407.5" y="32.1" width="275.8" height="232"/></clipPath>
<line x1="596.8" y1="220" x2="619.9" y2="220" stroke="#18508f" stroke-width="1.2000000000000002"/>
<text x="685" y="224.3" text-anchor="end" font-family='"Liberation Sans", sans-serif' font-size="12.1">6−month</text>
<line x1="596.8" y1="234.6" x2="619.9" y2="234.6" stroke="#e41a1c" stroke-width="1.35"/>
<text x="685" y="238.9" text-anchor="end" font-family='"Liberation Sans", sans-serif' font-size="12.1">12−month</text>
<line x1="596.8" y1="249.2" x2="619.9" y2="249.2" stroke="#4daf4a" stroke-width="1.25"/>
<text x="685" y="253.5" text-anchor="end" font-family='"Liberation Sans", sans-serif' font-size="12.1">24−month</text>
<text x="481.5" y="320.2" font-family='"Liberation Serif", serif' font-size="12.3">GBM−predicted OS (%)</text>
<text x="360.7" y="152.9" transform="rotate(-90 360.7 152.9)" text-anchor="middle" font-family='"Liberation Serif", serif' font-size="12.3">Observed OS (%)</text>
<text x="361.5" y="13.8" font-family='"Liberation Serif", serif' font-weight="bold" font-size="17">B</text>
<line x1="257" y1="385" x2="257" y2="389.06" stroke="#bbb" stroke-width="1"/>
<line x1="258.79" y1="385" x2="258.79" y2="389.75" stroke="#bbb" stroke-width="1"/>
<line x1="260.46" y1="385" x2="260.46" y2="387.72" stroke="#bbb" stroke-width="1"/>
<line x1="261.73" y1="385" x2="261.73" y2="388.14" stroke="#999" stroke-width="1"/>
<line x1="263.3" y1="385" x2="263.3" y2="388.76" stroke="#999" stroke-width="1"/>
<line x1="264.61" y1="385" x2="264.61" y2="389.55" stroke="#bbb" stroke-width="1"/>
<line x1="266.12" y1="385" x2="266.12" y2="389.01" stroke="#aaa" stroke-width="1"/>
<line x1="268.1" y1="385" x2="268.1" y2="387.94" stroke="#aaa" stroke-width="1"/>
<line x1="270.11" y1="385" x2="270.11" y2="387.91" stroke="#c4c4c4" stroke-width="1"/>
<line x1="271.12" y1="385" x2="271.12" y2="388.68" stroke="#bbb" stroke-width="1"/>
<line x1="273.1" y1="385" x2="273.1" y2="389.13" stroke="#aaa" stroke-width="1"/>
<line x1="274.83" y1="385" x2="274.83" y2="389.3" stroke="#c4c4c4" stroke-width="1"/>
<line x1="276.25" y1="385" x2="276.25" y2="389.09" stroke="#aaa" stroke-width="1"/>
<line x1="277.53" y1="385" x2="277.53" y2="389.68" stroke="#ccc" stroke-width="1"/>
<line x1="279.49" y1="385" x2="279.49" y2="388.13" stroke="#999" stroke-width="1"/>
<line x1="280.4" y1="385" x2="280.4" y2="388.33" stroke="#aaa" stroke-width="1"/>
<line x1="281.75" y1="385" x2="281.75" y2="388.1" stroke="#aaa" stroke-width="1"/>
<line x1="283.85" y1="385" x2="283.85" y2="389.14" stroke="#c4c4c4" stroke-width="1"/>
<line x1="285.3" y1="385" x2="285.3" y2="389.06" stroke="#999" stroke-width="1"/>
<line x1="286.87" y1="385" x2="286.87" y2="388.22" stroke="#aaa" stroke-width="1"/>
<line x1="288.21" y1="385" x2="288.21" y2="388.6" stroke="#aaa" stroke-width="1"/>
<line x1="289.43" y1="385" x2="289.43" y2="388.38" stroke="#bbb" stroke-width="1"/>
<line x1="291.28" y1="385" x2="291.28" y2="389.54" stroke="#999" stroke-width="1"/>
<line x1="292.78" y1="385" x2="292.78" y2="389.19" stroke="#ccc" stroke-width="1"/>
<line x1="294.16" y1="385" x2="294.16" y2="388.1" stroke="#999" stroke-width="1"/>
<line x1="296.29" y1="385" x2="296.29" y2="388.72" stroke="#ccc" stroke-width="1"/>
<line x1="297.8" y1="385" x2="297.8" y2="388.93" stroke="#aaa" stroke-width="1"/>
<line x1="299.08" y1="385" x2="299.08" y2="389.66" stroke="#bbb" stroke-width="1"/>
<line x1="301.14" y1="385" x2="301.14" y2="387.76" stroke="#bbb" stroke-width="1"/>
<line x1="302.43" y1="385" x2="302.43" y2="388.79" stroke="#ccc" stroke-width="1"/>
<line x1="303.38" y1="385" x2="303.38" y2="389.26" stroke="#c4c4c4" stroke-width="1"/>
<line x1="304.92" y1="385" x2="304.92" y2="387.78" stroke="#ccc" stroke-width="1"/>
<line x1="306.78" y1="385" x2="306.78" y2="389.27" stroke="#c4c4c4" stroke-width="1"/>
<line x1="307.87" y1="385" x2="307.87" y2="388.63" stroke="#ccc" stroke-width="1"/>
<line x1="309.35" y1="385" x2="309.35" y2="388.13" stroke="#ccc" stroke-width="1"/>
<line x1="311.24" y1="385" x2="311.24" y2="389.17" stroke="#ccc" stroke-width="1"/>
<line x1="313.41" y1="385" x2="313.41" y2="389.54" stroke="#c4c4c4" stroke-width="1"/>
<line x1="315.54" y1="385" x2="315.54" y2="388.61" stroke="#ccc" stroke-width="1"/>
<line x1="317.05" y1="385" x2="317.05" y2="389.8" stroke="#bbb" stroke-width="1"/>
<line x1="318.42" y1="385" x2="318.42" y2="389.49" stroke="#c4c4c4" stroke-width="1"/>
<line x1="319.36" y1="385" x2="319.36" y2="388.48" stroke="#c4c4c4" stroke-width="1"/>
<line x1="321.31" y1="385" x2="321.31" y2="388.32" stroke="#bbb" stroke-width="1"/>
<line x1="323.42" y1="385" x2="323.42" y2="388.79" stroke="#aaa" stroke-width="1"/>
<line x1="324.49" y1="385" x2="324.49" y2="388.81" stroke="#999" stroke-width="1"/>
<line x1="325.42" y1="385" x2="325.42" y2="389.7" stroke="#aaa" stroke-width="1"/>
<line x1="326.58" y1="385" x2="326.58" y2="389.32" stroke="#ccc" stroke-width="1"/>
<line x1="327.94" y1="385" x2="327.94" y2="389.73" stroke="#c4c4c4" stroke-width="1"/>
<line x1="330.11" y1="385" x2="330.11" y2="387.77" stroke="#bbb" stroke-width="1"/>
<line x1="331.33" y1="385" x2="331.33" y2="388.28" stroke="#c4c4c4" stroke-width="1"/>
<line x1="333.31" y1="385" x2="333.31" y2="388.97" stroke="#aaa" stroke-width="1"/>
<line x1="334.8" y1="385" x2="334.8" y2="388.25" stroke="#ccc" stroke-width="1"/>
<line x1="336.24" y1="385" x2="336.24" y2="388.25" stroke="#aaa" stroke-width="1"/>
<line x1="337.18" y1="385" x2="337.18" y2="387.78" stroke="#bbb" stroke-width="1"/>
<line x1="339.26" y1="385" x2="339.26" y2="389.4" stroke="#bbb" stroke-width="1"/>
<line x1="341.4" y1="385" x2="341.4" y2="389.26" stroke="#ccc" stroke-width="1"/>
<line x1="342.97" y1="385" x2="342.97" y2="389.45" stroke="#999" stroke-width="1"/>
<line x1="344.04" y1="385" x2="344.04" y2="387.73" stroke="#aaa" stroke-width="1"/>
<line x1="344.96" y1="385" x2="344.96" y2="389.05" stroke="#ccc" stroke-width="1"/>
<line x1="346.47" y1="385" x2="346.47" y2="389.1" stroke="#999" stroke-width="1"/>
<line x1="348.04" y1="385" x2="348.04" y2="388.48" stroke="#bbb" stroke-width="1"/>
<line x1="349.32" y1="385" x2="349.32" y2="387.85" stroke="#bbb" stroke-width="1"/>
<line x1="351.51" y1="385" x2="351.51" y2="388.85" stroke="#ccc" stroke-width="1"/>
<line x1="353.42" y1="385" x2="353.42" y2="388.63" stroke="#c4c4c4" stroke-width="1"/>
<line x1="355.36" y1="385" x2="355.36" y2="388.65" stroke="#999" stroke-width="1"/>
<line x1="356.46" y1="385" x2="356.46" y2="388.36" stroke="#999" stroke-width="1"/>
<line x1="357.41" y1="385" x2="357.41" y2="388.72" stroke="#bbb" stroke-width="1"/>
<line x1="359.39" y1="385" x2="359.39" y2="389.66" stroke="#999" stroke-width="1"/>
<line x1="360.64" y1="385" x2="360.64" y2="388.36" stroke="#999" stroke-width="1"/>
<line x1="362.26" y1="385" x2="362.26" y2="388.72" stroke="#c4c4c4" stroke-width="1"/>
<line x1="364.18" y1="385" x2="364.18" y2="389.28" stroke="#c4c4c4" stroke-width="1"/>
<line x1="365.21" y1="385" x2="365.21" y2="389.1" stroke="#c4c4c4" stroke-width="1"/>
<line x1="366.16" y1="385" x2="366.16" y2="388.72" stroke="#ccc" stroke-width="1"/>
<line x1="367.31" y1="385" x2="367.31" y2="389.63" stroke="#bbb" stroke-width="1"/>
<line x1="369.06" y1="385" x2="369.06" y2="389.68" stroke="#ccc" stroke-width="1"/>
<line x1="370.37" y1="385" x2="370.37" y2="388.27" stroke="#aaa" stroke-width="1"/>
<line x1="372.5" y1="385" x2="372.5" y2="388.37" stroke="#ccc" stroke-width="1"/>
<line x1="374.12" y1="385" x2="374.12" y2="387.77" stroke="#ccc" stroke-width="1"/>
<line x1="375.34" y1="385" x2="375.34" y2="389.76" stroke="#aaa" stroke-width="1"/>
<line x1="376.89" y1="385" x2="376.89" y2="389.71" stroke="#aaa" stroke-width="1"/>
<line x1="378.7" y1="385" x2="378.7" y2="387.94" stroke="#aaa" stroke-width="1"/>
<line x1="380.42" y1="385" x2="380.42" y2="389.42" stroke="#aaa" stroke-width="1"/>
<line x1="382.54" y1="385" x2="382.54" y2="389.75" stroke="#aaa" stroke-width="1"/>
<line x1="384" y1="385" x2="384" y2="389.77" stroke="#ccc" stroke-width="1"/>
<line x1="385.25" y1="385" x2="385.25" y2="388.85" stroke="#aaa" stroke-width="1"/>
<line x1="386.38" y1="385" x2="386.38" y2="388.72" stroke="#bbb" stroke-width="1"/>
<line x1="387.46" y1="385" x2="387.46" y2="389.6" stroke="#bbb" stroke-width="1"/>
<line x1="389.26" y1="385" x2="389.26" y2="388.68" stroke="#ccc" stroke-width="1"/>
<line x1="391" y1="385" x2="391" y2="388" stroke="#aaa" stroke-width="1"/>
<line x1="392.14" y1="385" x2="392.14" y2="389.02" stroke="#c4c4c4" stroke-width="1"/>
<line x1="393.28" y1="385" x2="393.28" y2="389.43" stroke="#bbb" stroke-width="1"/>
<line x1="394.25" y1="385" x2="394.25" y2="389.72" stroke="#999" stroke-width="1"/>
<line x1="395.43" y1="385" x2="395.43" y2="389.34" stroke="#ccc" stroke-width="1"/>
<line x1="396.83" y1="385" x2="396.83" y2="389.77" stroke="#c4c4c4" stroke-width="1"/>
<line x1="397.87" y1="385" x2="397.87" y2="387.94" stroke="#c4c4c4" stroke-width="1"/>
<line x1="398.93" y1="385" x2="398.93" y2="388.44" stroke="#999" stroke-width="1"/>
<line x1="399.93" y1="385" x2="399.93" y2="388.1" stroke="#c4c4c4" stroke-width="1"/>
<line x1="402.13" y1="385" x2="402.13" y2="389.76" stroke="#bbb" stroke-width="1"/>
<line x1="403.11" y1="385" x2="403.11" y2="388.85" stroke="#ccc" stroke-width="1"/>
<line x1="404.15" y1="385" x2="404.15" y2="389.48" stroke="#ccc" stroke-width="1"/>
<line x1="405.08" y1="385" x2="405.08" y2="388.43" stroke="#ccc" stroke-width="1"/>
<line x1="406.72" y1="385" x2="406.72" y2="388.67" stroke="#999" stroke-width="1"/>
<line x1="408.01" y1="385" x2="408.01" y2="388.01" stroke="#ccc" stroke-width="1"/>
<line x1="409.99" y1="385" x2="409.99" y2="388.12" stroke="#999" stroke-width="1"/>
<line x1="411.28" y1="385" x2="411.28" y2="389.27" stroke="#bbb" stroke-width="1"/>
<line x1="412.57" y1="385" x2="412.57" y2="389.5" stroke="#bbb" stroke-width="1"/>
<line x1="413.88" y1="385" x2="413.88" y2="389.46" stroke="#bbb" stroke-width="1"/>
<line x1="414.85" y1="385" x2="414.85" y2="389.75" stroke="#ccc" stroke-width="1"/>
<line x1="416.55" y1="385" x2="416.55" y2="388.07" stroke="#999" stroke-width="1"/>
<line x1="417.47" y1="385" x2="417.47" y2="389.53" stroke="#ccc" stroke-width="1"/>
<line x1="419.66" y1="385" x2="419.66" y2="389.14" stroke="#999" stroke-width="1"/>
<line x1="421.46" y1="385" x2="421.46" y2="388.28" stroke="#ccc" stroke-width="1"/>
<line x1="423.07" y1="385" x2="423.07" y2="388.63" stroke="#bbb" stroke-width="1"/>
<line x1="424.73" y1="385" x2="424.73" y2="388.16" stroke="#ccc" stroke-width="1"/>
<line x1="426.29" y1="385" x2="426.29" y2="388.48" stroke="#c4c4c4" stroke-width="1"/>
<line x1="427.96" y1="385" x2="427.96" y2="389.18" stroke="#c4c4c4" stroke-width="1"/>
<line x1="429.98" y1="385" x2="429.98" y2="389.45" stroke="#c4c4c4" stroke-width="1"/>
<line x1="432.15" y1="385" x2="432.15" y2="388.32" stroke="#bbb" stroke-width="1"/>
<line x1="433.21" y1="385" x2="433.21" y2="388.75" stroke="#c4c4c4" stroke-width="1"/>
<line x1="435.06" y1="385" x2="435.06" y2="388.22" stroke="#ccc" stroke-width="1"/>
<line x1="437.21" y1="385" x2="437.21" y2="388.65" stroke="#ccc" stroke-width="1"/>
<line x1="438.55" y1="385" x2="438.55" y2="389.36" stroke="#bbb" stroke-width="1"/>
<line x1="440.73" y1="385" x2="440.73" y2="388.81" stroke="#ccc" stroke-width="1"/>
<line x1="442.92" y1="385" x2="442.92" y2="387.81" stroke="#ccc" stroke-width="1"/>
<line x1="444.38" y1="385" x2="444.38" y2="389.48" stroke="#c4c4c4" stroke-width="1"/>
<line x1="445.35" y1="385" x2="445.35" y2="389.49" stroke="#ccc" stroke-width="1"/>
<line x1="446.53" y1="385" x2="446.53" y2="387.86" stroke="#999" stroke-width="1"/>
<line x1="447.71" y1="385" x2="447.71" y2="388.85" stroke="#aaa" stroke-width="1"/>
<line x1="449.17" y1="385" x2="449.17" y2="389.52" stroke="#999" stroke-width="1"/>
<line x1="450.54" y1="385" x2="450.54" y2="388.33" stroke="#999" stroke-width="1"/>
<line x1="451.92" y1="385" x2="451.92" y2="388.62" stroke="#aaa" stroke-width="1"/>
<line x1="453.58" y1="385" x2="453.58" y2="388.01" stroke="#bbb" stroke-width="1"/>
<line x1="454.48" y1="385" x2="454.48" y2="387.84" stroke="#aaa" stroke-width="1"/>
<line x1="455.56" y1="385" x2="455.56" y2="387.87" stroke="#c4c4c4" stroke-width="1"/>
<line x1="457.03" y1="385" x2="457.03" y2="388.11" stroke="#aaa" stroke-width="1"/>
<line x1="458.63" y1="385" x2="458.63" y2="389.63" stroke="#999" stroke-width="1"/>
<line x1="460.11" y1="385" x2="460.11" y2="388.46" stroke="#bbb" stroke-width="1"/>
<line x1="461.58" y1="385" x2="461.58" y2="389.13" stroke="#aaa" stroke-width="1"/>
<line x1="463.14" y1="385" x2="463.14" y2="389.65" stroke="#bbb" stroke-width="1"/>
<line x1="464.66" y1="385" x2="464.66" y2="389.57" stroke="#c4c4c4" stroke-width="1"/>
<line x1="466.28" y1="385" x2="466.28" y2="387.95" stroke="#bbb" stroke-width="1"/>
<line x1="467.96" y1="385" x2="467.96" y2="387.88" stroke="#aaa" stroke-width="1"/>
<line x1="469.89" y1="385" x2="469.89" y2="388.5" stroke="#ccc" stroke-width="1"/>
<line x1="471.87" y1="385" x2="471.87" y2="388.09" stroke="#c4c4c4" stroke-width="1"/>
<line x1="472.96" y1="385" x2="472.96" y2="388.13" stroke="#ccc" stroke-width="1"/>
<line x1="474.62" y1="385" x2="474.62" y2="389.69" stroke="#c4c4c4" stroke-width="1"/>
<line x1="476.09" y1="385" x2="476.09" y2="387.9" stroke="#aaa" stroke-width="1"/>
<line x1="477.07" y1="385" x2="477.07" y2="389.54" stroke="#c4c4c4" stroke-width="1"/>
<line x1="478.05" y1="385" x2="478.05" y2="387.72" stroke="#ccc" stroke-width="1"/>
<line x1="480.14" y1="385" x2="480.14" y2="389.03" stroke="#aaa" stroke-width="1"/>
<line x1="482.12" y1="385" x2="482.12" y2="388.4" stroke="#ccc" stroke-width="1"/>
<line x1="484.16" y1="385" x2="484.16" y2="388.17" stroke="#c4c4c4" stroke-width="1"/>
<line x1="485.32" y1="385" x2="485.32" y2="388.52" stroke="#aaa" stroke-width="1"/>
<line x1="486.29" y1="385" x2="486.29" y2="388.79" stroke="#999" stroke-width="1"/>
<line x1="487.87" y1="385" x2="487.87" y2="388.91" stroke="#aaa" stroke-width="1"/>
<line x1="489.01" y1="385" x2="489.01" y2="389.42" stroke="#999" stroke-width="1"/>
<line x1="495" y1="385" x2="495" y2="389" stroke="#bbb" stroke-width="1"/>
<line x1="500.4" y1="385" x2="500.4" y2="389" stroke="#aaa" stroke-width="1"/>
<line x1="412.56" y1="496.07" x2="464.04" y2="426.43" stroke="#18508f" stroke-width="1.1"/>
<line x1="472.78" y1="415.51" x2="480.52" y2="406.59" stroke="#18508f" stroke-width="1.1"/>
<line x1="358.65" y1="529.88" x2="424.85" y2="471.62" stroke="#e41a1c" stroke-width="1.25"/>
<line x1="433.73" y1="461.01" x2="454.47" y2="426.79" stroke="#e41a1c" stroke-width="1.25"/>
<line x1="290.28" y1="578.37" x2="342.52" y2="538.73" stroke="#4daf4a" stroke-width="1.15"/>
<line x1="353.45" y1="529.99" x2="386.95" y2="501.71" stroke="#4daf4a" stroke-width="1.15"/>
<line x1="249.4" y1="617" x2="525.8" y2="385" stroke="#dcdcdc" stroke-width="0.9"/>
<circle cx="284.7" cy="582.6" r="3" fill="#22a022"/>
<circle cx="348.1" cy="534.5" r="3" fill="#22a022"/>
<circle cx="353.4" cy="534.5" r="3" fill="#ff1010"/>
<circle cx="392.3" cy="497.2" r="3" fill="#22a022"/>
<circle cx="408.4" cy="501.7" r="3" fill="#1a3f9a"/>
<circle cx="430.1" cy="467" r="3" fill="#ff1010"/>
<circle cx="458.1" cy="420.8" r="3" fill="#ff1010"/>
<circle cx="468.2" cy="420.8" r="3" fill="#1a3f9a"/>
<circle cx="485.1" cy="401.3" r="3" fill="#1a3f9a"/>
<path d="M284.7 552.8V595.4M281.9 552.8H287.5M281.9 595.4H287.5" stroke="#000" stroke-width="1.3" fill="none"/>
<path d="M348.1 501.7V557.4M345.3 501.7H350.9M345.3 557.4H350.9" stroke="#000" stroke-width="1.3" fill="none"/>
<path d="M353.4 501.7V557.4M350.6 501.7H356.2M350.6 557.4H356.2" stroke="#000" stroke-width="1.3" fill="none"/>
<path d="M392.3 464.6V522.8M389.5 464.6H395.1M389.5 522.8H395.1" stroke="#000" stroke-width="1.3" fill="none"/>
<path d="M408.4 469V526.1M405.6 469H411.2M405.6 526.1H411.2" stroke="#000" stroke-width="1.3" fill="none"/>
<path d="M430.1 437.3V491.3M427.3 437.3H432.9M427.3 491.3H432.9" stroke="#000" stroke-width="1.3" fill="none"/>
<path d="M458.1 400.8V438M455.3 400.8H460.9M455.3 438H460.9" stroke="#000" stroke-width="1.3" fill="none"/>
<path d="M468.2 400.8V438M465.4 400.8H471M465.4 438H471" stroke="#000" stroke-width="1.3" fill="none"/>
<path d="M485.1 393.3V410.5M482.3 393.3H487.9M482.3 410.5H487.9" stroke="#000" stroke-width="1.3" fill="none"/>
<path d="M281.6 579.5L287.8 585.7M281.6 585.7L287.8 579.5" stroke="#0000ff" stroke-width="1.1"/>
<path d="M345 531.4L351.2 537.6M345 537.6L351.2 531.4" stroke="#0000ff" stroke-width="1.1"/>
<path d="M350.3 531.4L356.5 537.6M350.3 537.6L356.5 531.4" stroke="#0000ff" stroke-width="1.1"/>
<path d="M389.2 494.1L395.4 500.3M389.2 500.3L395.4 494.1" stroke="#0000ff" stroke-width="1.1"/>
<path d="M405.3 498.6L411.5 504.8M405.3 504.8L411.5 498.6" stroke="#0000ff" stroke-width="1.1"/>
<path d="M427 463.9L433.2 470.1M427 470.1L433.2 463.9" stroke="#0000ff" stroke-width="1.1"/>
<path d="M455 417.7L461.2 423.9M455 423.9L461.2 417.7" stroke="#0000ff" stroke-width="1.1"/>
<path d="M465.1 417.7L471.3 423.9M465.1 423.9L471.3 417.7" stroke="#0000ff" stroke-width="1.1"/>
<path d="M482 398.2L488.2 404.4M482 404.4L488.2 398.2" stroke="#0000ff" stroke-width="1.1"/>
<rect x="249.4" y="385" width="276.4" height="232" fill="none" stroke="#000" stroke-width="1"/>
<line x1="242.4" y1="608.4" x2="249.4" y2="608.4" stroke="#000" stroke-width="1"/>
<text x="232.2" y="608.4" transform="rotate(-90 232.2 608.4)" text-anchor="middle" font-family='"Liberation Sans", sans-serif' font-size="12.0">0.0</text>
<line x1="242.4" y1="565.44" x2="249.4" y2="565.44" stroke="#000" stroke-width="1"/>
<text x="232.2" y="565.44" transform="rotate(-90 232.2 565.44)" text-anchor="middle" font-family='"Liberation Sans", sans-serif' font-size="12.0">0.2</text>
<line x1="242.4" y1="522.48" x2="249.4" y2="522.48" stroke="#000" stroke-width="1"/>
<text x="232.2" y="522.48" transform="rotate(-90 232.2 522.48)" text-anchor="middle" font-family='"Liberation Sans", sans-serif' font-size="12.0">0.4</text>
<line x1="242.4" y1="479.52" x2="249.4" y2="479.52" stroke="#000" stroke-width="1"/>
<text x="232.2" y="479.52" transform="rotate(-90 232.2 479.52)" text-anchor="middle" font-family='"Liberation Sans", sans-serif' font-size="12.0">0.6</text>
<line x1="242.4" y1="436.56" x2="249.4" y2="436.56" stroke="#000" stroke-width="1"/>
<text x="232.2" y="436.56" transform="rotate(-90 232.2 436.56)" text-anchor="middle" font-family='"Liberation Sans", sans-serif' font-size="12.0">0.8</text>
<line x1="242.4" y1="393.6" x2="249.4" y2="393.6" stroke="#000" stroke-width="1"/>
<text x="232.2" y="393.6" transform="rotate(-90 232.2 393.6)" text-anchor="middle" font-family='"Liberation Sans", sans-serif' font-size="12.0">1.0</text>
<line x1="259.64" y1="617" x2="259.64" y2="624.2" stroke="#000" stroke-width="1"/>
<text x="259.64" y="644" text-anchor="middle" font-family='"Liberation Sans", sans-serif' font-size="12.0">0.0</text>
<line x1="310.82" y1="617" x2="310.82" y2="624.2" stroke="#000" stroke-width="1"/>
<text x="310.82" y="644" text-anchor="middle" font-family='"Liberation Sans", sans-serif' font-size="12.0">0.2</text>
<line x1="362" y1="617" x2="362" y2="624.2" stroke="#000" stroke-width="1"/>
<text x="362" y="644" text-anchor="middle" font-family='"Liberation Sans", sans-serif' font-size="12.0">0.4</text>
<line x1="413.18" y1="617" x2="413.18" y2="624.2" stroke="#000" stroke-width="1"/>
<text x="413.18" y="644" text-anchor="middle" font-family='"Liberation Sans", sans-serif' font-size="12.0">0.6</text>
<line x1="464.36" y1="617" x2="464.36" y2="624.2" stroke="#000" stroke-width="1"/>
<text x="464.36" y="644" text-anchor="middle" font-family='"Liberation Sans", sans-serif' font-size="12.0">0.8</text>
<line x1="515.54" y1="617" x2="515.54" y2="624.2" stroke="#000" stroke-width="1"/>
<text x="515.54" y="644" text-anchor="middle" font-family='"Liberation Sans", sans-serif' font-size="12.0">1.0</text>
<clipPath id="c192"><rect x="249.4" y="385" width="275.8" height="232"/></clipPath>
<line x1="438.7" y1="572.9" x2="461.8" y2="572.9" stroke="#18508f" stroke-width="1.2000000000000002"/>
<text x="526.9" y="577.2" text-anchor="end" font-family='"Liberation Sans", sans-serif' font-size="12.1">6−month</text>
<line x1="438.7" y1="587.5" x2="461.8" y2="587.5" stroke="#e41a1c" stroke-width="1.35"/>
<text x="526.9" y="591.8" text-anchor="end" font-family='"Liberation Sans", sans-serif' font-size="12.1">12−month</text>
<line x1="438.7" y1="602.1" x2="461.8" y2="602.1" stroke="#4daf4a" stroke-width="1.25"/>
<text x="526.9" y="606.4" text-anchor="end" font-family='"Liberation Sans", sans-serif' font-size="12.1">24−month</text>
<text x="323.4" y="673.1" font-family='"Liberation Serif", serif' font-size="12.3">GBM−predicted OS (%)</text>
<text x="202.6" y="505.8" transform="rotate(-90 202.6 505.8)" text-anchor="middle" font-family='"Liberation Serif", serif' font-size="12.3">Observed OS (%)</text>
<text x="202.5" y="367.5" font-family='"Liberation Serif", serif' font-weight="bold" font-size="17">C</text>
</svg>
</body></html>
